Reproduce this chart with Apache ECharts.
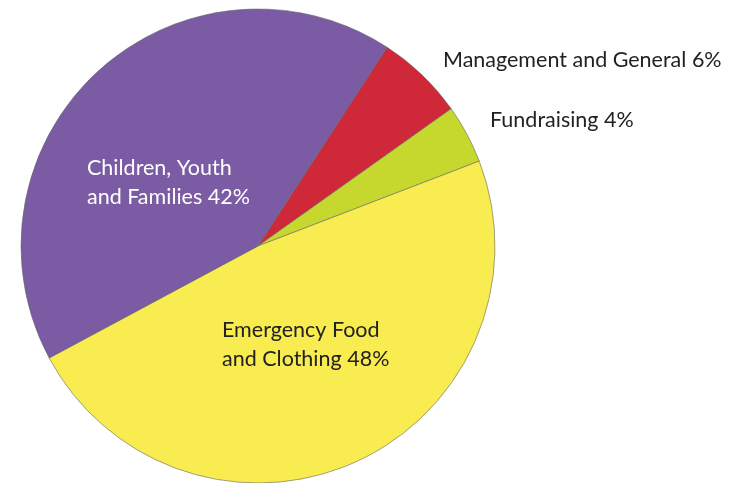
<!DOCTYPE html>
<html><head><meta charset="utf-8">
<script src="https://cdn.jsdelivr.net/npm/echarts@6/dist/echarts.min.js"></script>
<style>html,body{margin:0;padding:0;background:#fff}#c{width:729px;height:483px}</style>
</head><body><div id="c"></div>
<script>
const categories = ['Management and General', 'Fundraising', 'Emergency Food\nand Clothing', 'Children, Youth\nand Families'];
const values = [6, 4, 48, 42];
const colors = ['#cf2838', '#c6d82e', '#f8ec50', '#7a5ba4'];
const labelColors = ['#222', '#222', '#222', '#fff'];
const labelPos = [[443, 60], [490, 120], [222, 345], [87, 183]];

const chart = echarts.init(document.getElementById('c'));
chart.setOption({
  animation: false,
  series: [{
    type: 'pie',
    center: [258, 246],
    radius: 237,
    startAngle: 57,
    clockwise: true,
    data: categories.map((n, i) => ({
      name: n, value: values[i],
      itemStyle: { color: colors[i] },
      label: { color: labelColors[i] }
    })),
    itemStyle: { borderColor: '#666', borderWidth: 0.6 },
    label: {
      show: true,
      position: 'inside',
      formatter: p => p.name + ' ' + p.value + '%',
      fontFamily: 'Lato',
      fontSize: 21.5,
      lineHeight: 29,
      align: 'left'
    },
    labelLine: { show: false },
    labelLayout: p => ({ x: labelPos[p.dataIndex][0], y: labelPos[p.dataIndex][1], align: 'left', verticalAlign: 'middle' })
  }]
});
</script></body></html>
